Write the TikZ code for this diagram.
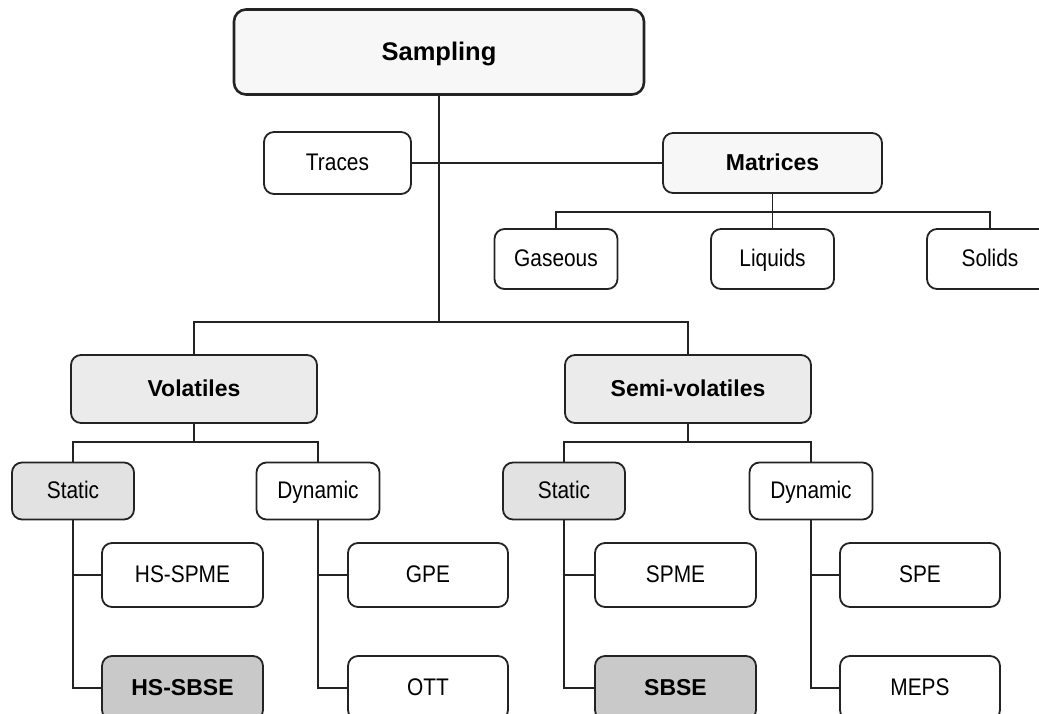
\documentclass[tikz,border=0pt]{standalone}
\usepackage{fontspec}
\setmainfont{Liberation Sans}
\newfontfamily\narrowsans{Liberation Sans}[FakeStretch=0.87]
\definecolor{boxline}{RGB}{35,35,35}
\definecolor{sampfill}{RGB}{247,247,247}
\definecolor{matfill}{RGB}{247,247,247}
\definecolor{volfill}{RGB}{235,235,235}
\definecolor{statfill}{RGB}{226,226,226}
\definecolor{sbsefill}{RGB}{201,201,201}
\usepackage{tikz}

\begin{document}
\begin{tikzpicture}[x=1pt,y=-1pt,
    nodebox/.style={draw=boxline,line width=1.8pt,rounded corners=10pt,fill=white,
        inner sep=0pt,text height=16.5pt,text depth=1.5pt,
        font=\narrowsans\fontsize{24}{28}\selectfont},
    headbox/.style={nodebox,font=\bfseries\fontsize{23}{27}\selectfont},
    link/.style={draw=boxline,line width=1.4pt}]

        \useasboundingbox (0,0) rectangle (1039,713);

        % Topo
        \node[headbox,fill=sampfill,line width=2.6pt,rounded corners=12pt,
            minimum width=410pt,minimum height=85pt,text height=17.5pt,
            font=\bfseries\fontsize{25.5}{30}\selectfont] (sampling) at (439,52) {Sampling};
        \node[nodebox,minimum width=147pt,minimum height=62pt] (traces) at (337.5,163) {Traces};
        \node[headbox,fill=matfill,minimum width=219pt,minimum height=60pt] (matrices) at (772.5,163) {Matrices};

        % Matrizes
        \node[nodebox,minimum width=123pt,minimum height=60pt] (gaseous) at (556,259) {Gaseous};
        \node[nodebox,minimum width=123pt,minimum height=60pt] (liquids) at (772.5,259) {Liquids};
        \node[nodebox,minimum width=126pt,minimum height=60pt] (solids) at (990,259) {Solids};

        % Volateis / semi-volateis
        \node[headbox,fill=volfill,minimum width=246pt,minimum height=68pt] (volatiles) at (194,389) {Volatiles};
        \node[headbox,fill=volfill,minimum width=246pt,minimum height=68pt] (semivol) at (688,389) {Semi-volatiles};

        \node[nodebox,fill=statfill,minimum width=122pt,minimum height=57pt] (vstatic) at (73,491) {Static};
        \node[nodebox,minimum width=123pt,minimum height=57pt] (vdynamic) at (318,491) {Dynamic};
        \node[nodebox,fill=statfill,minimum width=122pt,minimum height=57pt] (sstatic) at (564,491) {Static};
        \node[nodebox,minimum width=123pt,minimum height=57pt] (sdynamic) at (811,491) {Dynamic};

        % Tecnicas
        \node[nodebox,minimum width=161pt,minimum height=64pt] (hsspme) at (182.5,575) {HS-SPME};
        \node[headbox,fill=sbsefill,minimum width=161pt,minimum height=64pt] (hssbse) at (182.5,688) {HS-SBSE};
        \node[nodebox,minimum width=160pt,minimum height=64pt] (gpe) at (428,575) {GPE};
        \node[nodebox,minimum width=160pt,minimum height=64pt] (ott) at (428,688) {OTT};
        \node[nodebox,minimum width=161pt,minimum height=64pt] (spme) at (675.5,575) {SPME};
        \node[headbox,fill=sbsefill,minimum width=161pt,minimum height=64pt] (sbse) at (675.5,688) {SBSE};
        \node[nodebox,minimum width=160pt,minimum height=64pt] (spe) at (920,575) {SPE};
        \node[nodebox,minimum width=160pt,minimum height=64pt] (meps) at (920,688) {MEPS};

        % Barramentos
        \coordinate (maintrunk) at (439,322);
        \coordinate (matbus) at (772.5,212);
        \coordinate (volbus) at (194,442);
        \coordinate (semibus) at (688,442);

        % Ligacoes
        \draw[link] (sampling.south) -- (maintrunk);
        \draw[link] (traces.east) -- (matrices.west);
        \draw[link] (volatiles.north) |- (maintrunk) -| (semivol.north);

        \draw[link] (matrices.south) -- (liquids.north);
        \draw[link] (gaseous.north) |- (matbus) -| (solids.north);

        \draw[link] (volatiles.south) -- (volbus);
        \draw[link] (vstatic.north) |- (volbus) -| (vdynamic.north);
        \draw[link] (semivol.south) -- (semibus);
        \draw[link] (sstatic.north) |- (semibus) -| (sdynamic.north);

        \draw[link] (vstatic.south) |- (hsspme.west);
        \draw[link] (vstatic.south) |- (hssbse.west);
        \draw[link] (vdynamic.south) |- (gpe.west);
        \draw[link] (vdynamic.south) |- (ott.west);
        \draw[link] (sstatic.south) |- (spme.west);
        \draw[link] (sstatic.south) |- (sbse.west);
        \draw[link] (sdynamic.south) |- (spe.west);
        \draw[link] (sdynamic.south) |- (meps.west);

    \end{tikzpicture}
\end{document}
